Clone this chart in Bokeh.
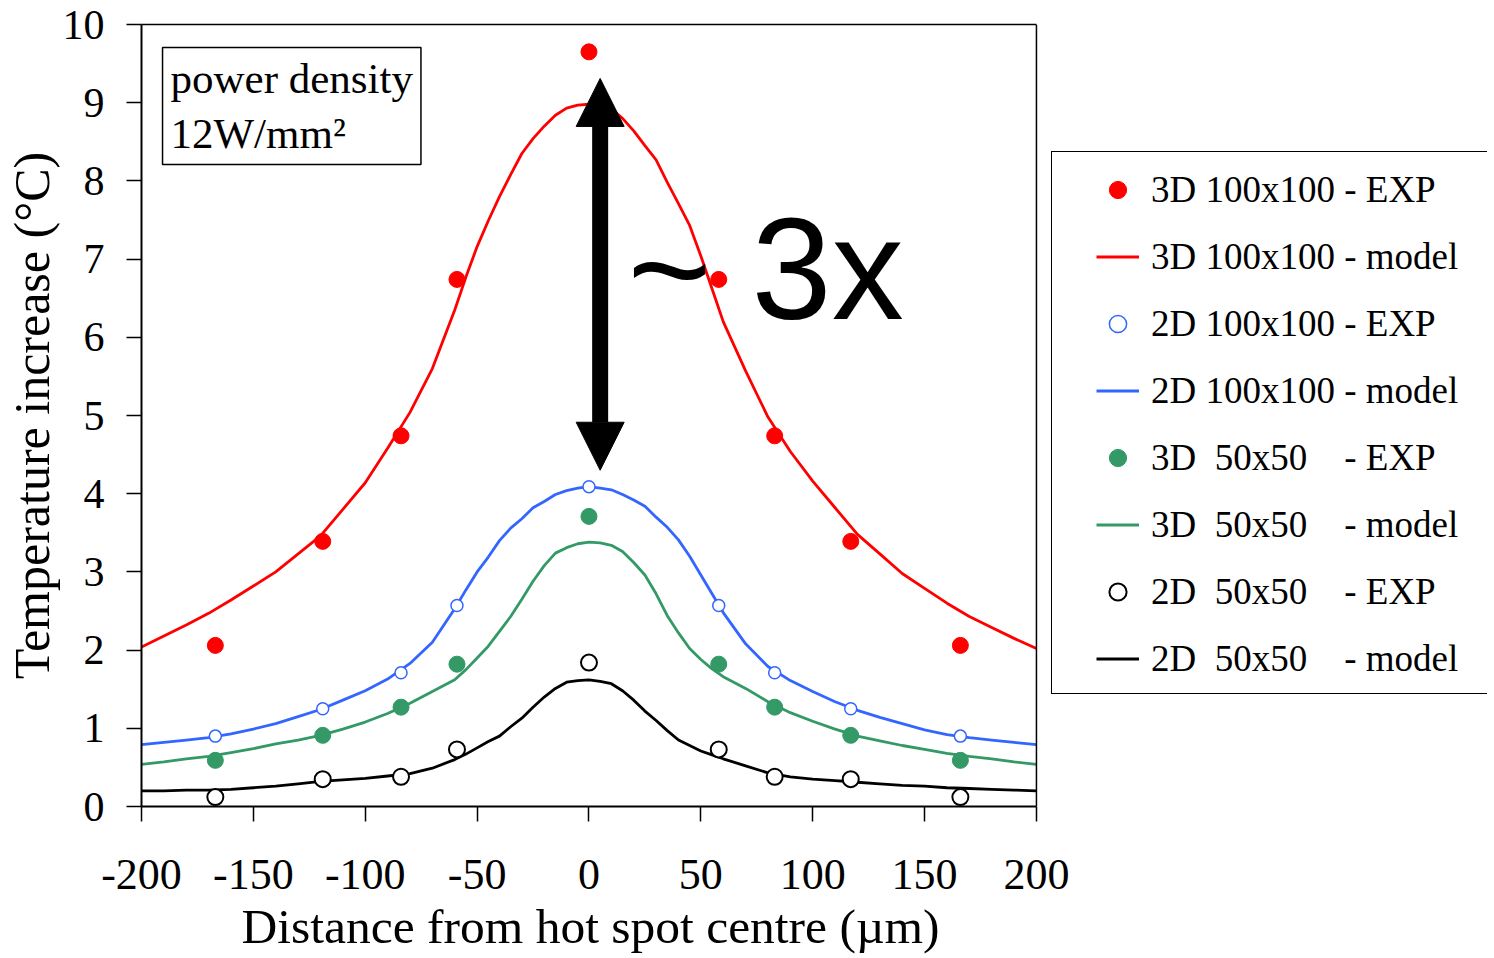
from bokeh.plotting import figure
from bokeh.models import (Range1d, FixedTicker, Legend, LegendItem, Label, Arrow,
                          NormalHead, LinearAxis, Span, Title)
from bokeh.core.properties import value
from bokeh.embed import file_html
from bokeh.resources import INLINE

# ---------------- data ----------------
x_ticks = [-200, -150, -100, -50, 0, 50, 100, 150, 200]
y_ticks = [0, 1, 2, 3, 4, 5, 6, 7, 8, 9, 10]

exp_x = [-167, -119, -84, -59, 0, 58, 83, 117, 166]
exp_3d_100 = [2.06, 3.39, 4.74, 6.74, 9.65, 6.74, 4.74, 3.39, 2.06]
exp_2d_100 = [0.90, 1.25, 1.71, 2.57, 4.09, 2.57, 1.71, 1.25, 0.90]
exp_3d_50 = [0.59, 0.91, 1.27, 1.82, 3.71, 1.82, 1.27, 0.91, 0.59]
exp_2d_50 = [0.12, 0.35, 0.38, 0.73, 1.84, 0.73, 0.38, 0.35, 0.12]

model_x = [-200, -190, -180, -170, -160, -150, -140, -130, -120, -110, -100, -90, -80, -70, -60,
           -55, -50, -45, -40, -35, -30, -25, -20, -15, -10, -5, 0,
           5, 10, 15, 20, 25, 30, 35, 40, 45, 50, 55,
           60, 70, 80, 90, 100, 110, 120, 130, 140, 150, 160, 170, 180, 190, 200]
model_3d_100 = [2.04, 2.18, 2.32, 2.47, 2.64, 2.82, 3.00, 3.23, 3.46, 3.80, 4.14, 4.58, 5.04, 5.60, 6.35,
                6.77, 7.16, 7.49, 7.80, 8.08, 8.35, 8.54, 8.70, 8.84, 8.93, 8.97, 8.98,
                8.95, 8.92, 8.80, 8.64, 8.45, 8.27, 7.98, 7.71, 7.43, 7.04, 6.62,
                6.20, 5.57, 4.98, 4.54, 4.16, 3.82, 3.48, 3.23, 2.98, 2.79, 2.60, 2.43, 2.29, 2.15, 2.02]
model_2d_100 = [0.79, 0.82, 0.85, 0.88, 0.93, 0.99, 1.06, 1.15, 1.24, 1.36, 1.48, 1.63, 1.83, 2.10, 2.53,
                2.77, 3.00, 3.19, 3.40, 3.56, 3.68, 3.82, 3.90, 3.99, 4.04, 4.07, 4.09,
                4.07, 4.05, 3.99, 3.92, 3.84, 3.70, 3.57, 3.41, 3.20, 2.96, 2.72,
                2.48, 2.08, 1.79, 1.61, 1.47, 1.34, 1.23, 1.14, 1.06, 0.98, 0.92, 0.88, 0.85, 0.82, 0.79]
model_3d_50 = [0.54, 0.57, 0.61, 0.64, 0.69, 0.74, 0.80, 0.85, 0.91, 0.99, 1.08, 1.19, 1.32, 1.47, 1.62,
               1.75, 1.90, 2.05, 2.24, 2.43, 2.65, 2.88, 3.08, 3.24, 3.31, 3.36, 3.38,
               3.37, 3.34, 3.26, 3.12, 2.96, 2.72, 2.44, 2.22, 2.02, 1.88, 1.76,
               1.66, 1.51, 1.34, 1.20, 1.09, 0.99, 0.90, 0.84, 0.78, 0.73, 0.68, 0.64, 0.61, 0.57, 0.54]
model_2d_50 = [0.20, 0.20, 0.21, 0.21, 0.22, 0.24, 0.26, 0.29, 0.32, 0.34, 0.36, 0.39, 0.42, 0.49, 0.60,
               0.67, 0.75, 0.83, 0.90, 1.02, 1.13, 1.27, 1.40, 1.51, 1.59, 1.61, 1.62,
               1.60, 1.57, 1.48, 1.36, 1.22, 1.10, 0.97, 0.85, 0.78, 0.71, 0.66,
               0.61, 0.52, 0.43, 0.38, 0.35, 0.33, 0.31, 0.29, 0.27, 0.26, 0.24, 0.23, 0.22, 0.21, 0.20]

labels = ["3D 100x100 - EXP", "3D 100x100 - model",
          "2D 100x100 - EXP", "2D 100x100 - model",
          "3D\u00a0\u00a050x50\u00a0\u00a0\u00a0\u00a0- EXP", "3D\u00a0\u00a050x50\u00a0\u00a0\u00a0\u00a0- model",
          "2D\u00a0\u00a050x50\u00a0\u00a0\u00a0\u00a0- EXP", "2D\u00a0\u00a050x50\u00a0\u00a0\u00a0\u00a0- model"]

RED, BLUE, GREEN, BLACK = "#FF0000", "#3366FF", "#339966", "#000000"
SERIF = "Liberation Serif"

# ---------------- figure ----------------
# frame extends to the right edge so the legend (which sits right of x=200) is not clipped
p = figure(frame_width=1346, frame_height=782,
           x_range=Range1d(-200, 401.6), y_range=Range1d(0, 10),
           output_backend="svg", toolbar_location=None,
           min_border_left=132, min_border_right=0,
           min_border_top=24, min_border_bottom=20)
p.xgrid.visible = False
p.ygrid.visible = False
p.outline_line_color = None
p.background_fill_color = "white"
p.border_fill_color = "white"

p.xaxis.ticker = FixedTicker(ticks=x_ticks)
p.xaxis.bounds = (-200, 200)
p.yaxis.ticker = FixedTicker(ticks=y_ticks)
p.xaxis.major_label_overrides = {t: str(t) for t in x_ticks}
for ax in (p.xaxis[0], p.yaxis[0]):
    ax.axis_line_width = 2
    ax.major_tick_line_width = 1.5
    ax.major_tick_out = 15
    ax.major_tick_in = 0
    ax.minor_tick_out = 0
    ax.minor_tick_in = 0
    ax.major_label_text_font = SERIF
    ax.major_label_text_color = "black"
    ax.axis_label_text_font = SERIF
    ax.axis_label_text_font_style = "normal"
    ax.axis_label_text_color = "black"
p.xaxis.major_label_text_font_size = "44px"
p.yaxis.major_label_text_font_size = "42px"
p.xaxis.major_label_standoff = 38
p.yaxis.major_label_standoff = 22
p.yaxis.axis_label = "Temperature increase (\u00b0C)"
p.yaxis.axis_label_text_font_size = "50px"
p.yaxis.axis_label_standoff = 0

# x-axis title, centred under the x = -200..200 box
p.add_layout(Title(text="Distance from hot spot centre (\u00b5m)", align="left", offset=100,
                   text_font=SERIF, text_font_size="49.5px", text_font_style="normal",
                   text_color="black", standoff=10), "below")

# top border of the plot box (x from -200 to 200) and right border at x = 200
top_axis = LinearAxis(ticker=FixedTicker(ticks=[]), bounds=(-200, 200),
                      axis_line_width=1.5, axis_line_color="black",
                      major_tick_out=0, minor_tick_out=0)
p.add_layout(top_axis, "above")
p.add_layout(Span(location=200, dimension="height", line_color="black", line_width=1.5))

# model lines
r_m1 = p.line(model_x, model_3d_100, line_color=RED, line_width=2.8)
r_m2 = p.line(model_x, model_2d_100, line_color=BLUE, line_width=2.8)
r_m3 = p.line(model_x, model_3d_50, line_color=GREEN, line_width=2.8)
r_m4 = p.line(model_x, model_2d_50, line_color=BLACK, line_width=2.8)

# experimental points
r_e1 = p.scatter(exp_x, exp_3d_100, size=16, fill_color=RED, line_color=RED)
r_e2 = p.scatter(exp_x, exp_2d_100, size=12, fill_color="white", line_color=BLUE, line_width=1.5)
r_e3 = p.scatter(exp_x, exp_3d_50, size=16, fill_color=GREEN, line_color=GREEN)
r_e4 = p.scatter(exp_x, exp_2d_50, size=16, fill_color="white", line_color=BLACK, line_width=2)

# legend frame (box only)
dummy = p.line(x=[0], y=[0], line_alpha=0)
box = Legend(items=[LegendItem(label=value(" "), renderers=[dummy])],
             location=(910, 112), padding=0, margin=0, spacing=0,
             glyph_width=520, glyph_height=541, label_standoff=0,
             border_line_color="black", border_line_width=1.5, border_line_alpha=1.0,
             background_fill_color="white", background_fill_alpha=1.0)
p.add_layout(box)

items = [LegendItem(label=value(labels[0]), renderers=[r_e1]),
         LegendItem(label=value(labels[1]), renderers=[r_m1]),
         LegendItem(label=value(labels[2]), renderers=[r_e2]),
         LegendItem(label=value(labels[3]), renderers=[r_m2]),
         LegendItem(label=value(labels[4]), renderers=[r_e3]),
         LegendItem(label=value(labels[5]), renderers=[r_m3]),
         LegendItem(label=value(labels[6]), renderers=[r_e4]),
         LegendItem(label=value(labels[7]), renderers=[r_m4])]
leg = Legend(items=items, location=(953, 112), padding=2, margin=0, spacing=0,
             glyph_width=43, glyph_height=67, label_height=67, label_standoff=12,
             label_text_font=SERIF, label_text_font_size="37px", label_text_color="black",
             border_line_alpha=0, background_fill_alpha=0)
p.add_layout(leg)

# double arrow
p.add_layout(Arrow(start=NormalHead(size=48, fill_color="black", line_color="black"),
                   end=NormalHead(size=48, fill_color="black", line_color="black"),
                   x_start=5.0, y_start=4.30, x_end=5.0, y_end=9.31,
                   line_width=16, line_color="black"))

# annotations
p.add_layout(Label(x=17.2, y=6.87, text="~ 3x", text_font="Liberation Sans",
                   text_font_size="144px", text_color="black",
                   text_baseline="alphabetic", text_align="left"))
p.add_layout(Label(x=-190.6, y=9.706, text="power density\n12W/mm\u00b2",
                   text_font=SERIF, text_font_size="43px", text_color="black",
                   text_line_height=1.15, text_baseline="top", text_align="left",
                   border_line_color="black", border_line_width=1.5,
                   background_fill_color="white", padding=8))

open("out.html", "w").write(file_html(p, INLINE))
